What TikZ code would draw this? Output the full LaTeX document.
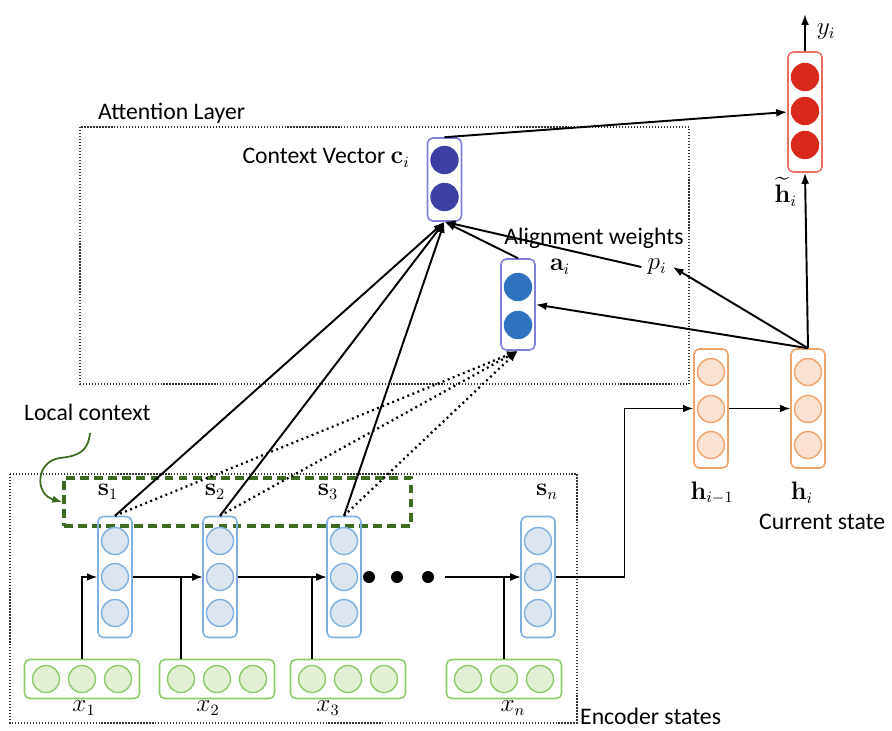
\documentclass[tikz,border=0pt]{standalone}
\usepackage{amsmath}
\usepackage[no-math]{fontspec}
\setmainfont{Carlito}
\usetikzlibrary{arrows.meta}

\definecolor{encblue}{HTML}{7FB0E0}
\definecolor{encfill}{HTML}{DCE5EF}
\definecolor{ingreen}{HTML}{8CCB6A}
\definecolor{infill}{HTML}{E3F0D6}
\definecolor{decorange}{HTML}{F2A36C}
\definecolor{decfill}{HTML}{FBE2D2}
\definecolor{outred}{HTML}{D9291C}
\definecolor{outborder}{HTML}{EB7062}
\definecolor{ctxblue}{HTML}{3B40A2}
\definecolor{alnblue}{HTML}{2F73BF}
\definecolor{vecborder}{HTML}{8080D8}
\definecolor{locgreen}{HTML}{3E6B22}

\tikzset{
  col/.style={draw=#1, rounded corners=3pt, line width=0.9pt, minimum width=0.68cm, inner sep=0pt},
  cell/.style={circle, line width=0.8pt, minimum size=0.54cm, inner sep=0pt},
  encell/.style={cell, draw=encblue, fill=encfill},
  incell/.style={cell, draw=ingreen, fill=infill},
  decell/.style={cell, draw=decorange, fill=decfill},
  outcell/.style={cell, draw=outred, fill=outred},
  ctxcell/.style={cell, draw=ctxblue, fill=ctxblue},
  alncell/.style={cell, draw=alnblue, fill=alnblue},
  inrow/.style={draw=ingreen, rounded corners=3pt, line width=0.9pt, minimum width=2.3cm, minimum height=0.78cm},
  dotnode/.style={circle, fill=black, inner sep=0pt, minimum size=0.24cm},
  layerbox/.style={densely dotted, line width=0.7pt, black!80},
  localbox/.style={draw=locgreen, line width=2pt, dash pattern=on 5pt off 3pt, minimum width=6.94cm, minimum height=0.96cm},
  feed/.style={-{Latex[length=2mm,width=1.5mm]}, line width=0.8pt},
  attn/.style={-{Latex[length=2.2mm,width=1.6mm]}, line width=1.1pt},
  align/.style={attn, dotted, line width=1.3pt}
}

\begin{document}
\begin{tikzpicture}[x=0.02cm, y=-0.02cm, font=\fontsize{13.5pt}{16pt}\selectfont]
  \useasboundingbox (0,0) rectangle (892,730);

  % Cadres des deux couches
  \draw[layerbox] (80,127) rectangle (689,384);
  \draw[layerbox] (10,474) rectangle (577,723);
  \node[anchor=west] (attlab) at (92,113) {Attention Layer};
  \node[anchor=west] (enclab) at (574,716) {Encoder states};

  % Contexte local
  \node[localbox] (loc) at (237.5,502) {};
  \node[anchor=west] (loclab) at (18,412) {Local context};
  \coordinate (locstart) at (90,433);
  \draw[locgreen, line width=1pt, -{Latex[length=2mm,width=1.5mm]}] (locstart)
    .. controls (88,452) and (78,456) .. (60,458)
    .. controls (36,461) and (34,494) .. (loc.west);

  % Etats de l'encodeur
  \foreach \k/\x in {1/115,2/220,3/344,n/538}{
    \node[col=encblue, minimum height=2.42cm] (s\k) at (\x,577) {};
    \foreach \y in {541,577,613}
      \node[encell] at (\x,\y) {};
  }
  \node (sl1) at (108,492) {$\mathbf{s}_1$};
  \node (sl2) at (215,492) {$\mathbf{s}_2$};
  \node (sl3) at (328,492) {$\mathbf{s}_3$};
  \node (sln) at (547,492) {$\mathbf{s}_n$};

  % Entrees
  \foreach \k/\x in {1/82,2/217,3/348,n/504}{
    \node[inrow] (x\k) at (\x,679) {};
    \foreach \dx/\c in {-36/a,0/b,36/c}
      \node[incell] (x\k\c) at (\x+\dx,679) {};
  }
  \node (xl1) at (84,708) {$x_1$};
  \node (xl2) at (208,708) {$x_2$};
  \node (xl3) at (328,708) {$x_3$};
  \node (xln) at (513,708) {$x_n$};

  \draw[feed] (x1b |- x1.north) |- (s1.west);
  \draw[feed] (x2a |- x2.north) |- (s2.west);
  \draw[feed] (x3a |- x3.north) |- (s3.west);
  \draw[feed] (xnb |- xn.north) |- (sn.west);

  % Recurrence
  \draw[feed] (s1.east) -- (s2.west);
  \draw[feed] (s2.east) -- (s3.west);
  \foreach \x [count=\k] in {369,397,428}
    \node[dotnode] (d\k) at (\x,577) {};
  \coordinate (dn) at (445,577);
  \draw[feed] (dn) -- (sn.west);

  % Decodeur
  \node[col=decorange, minimum height=2.38cm] (hprev) at (711,408.5) {};
  \node[col=decorange, minimum height=2.38cm] (hcur) at (808,408.5) {};
  \foreach \x in {711,808}
    \foreach \y in {372,409,445}
      \node[decell] at (\x,\y) {};
  \node (hprevlab) at (712,493) {$\mathbf{h}_{i-1}$};
  \node (hcurlab) at (802,493) {$\mathbf{h}_i$};
  \node[anchor=west] (curlab) at (753,522) {Current state};

  \draw[feed] (sn.east) -- ++(69,0) |- (hprev.west);
  \draw[feed] (hprev.east) -- (hcur.west);

  % Sortie
  \node[col=outborder, minimum height=2.4cm] (hout) at (805,112) {};
  \foreach \y in {77,111,145}
    \node[outcell] at (805,\y) {};
  \node[anchor=east, inner sep=1pt] (houtlab) at (799,192) {$\widetilde{\mathbf{h}}_i$};
  \coordinate (yout) at (805,14);
  \draw[attn] (hout.north) -- (yout);
  \node (ylab) at (826,32) {$y_i$};

  % Couche d'attention
  \node[col=vecborder, minimum height=1.66cm] (ctx) at (444.5,179.5) {};
  \foreach \y in {160,197}
    \node[ctxcell] at (444.5,\y) {};
  \node[anchor=east] (ctxlab) at (416,158) {Context Vector $\mathbf{c}_i$};

  \node[col=vecborder, minimum height=1.82cm] (aln) at (518,304.5) {};
  \foreach \y in {287,325}
    \node[alncell] at (518,\y) {};
  \node (alnlab) at (560,267) {$\mathbf{a}_i$};
  \node (wlab) at (594,238) {Alignment weights};
  \node (p) at (657,267) {$p_i$};

  \draw[attn] (ctx.north) -- (hout.west);
  \draw[attn] (hcur.north) -- (hout.south);
  \draw[attn] (hcur.north) -- (p.east);
  \draw[attn] (hcur.north) -- (aln.east);
  \draw[attn] (p.west) -- (ctx.south);
  \draw[attn] (aln.north) -- (ctx.south);
  \foreach \k in {1,2,3}{
    \draw[attn] (s\k.north) -- (ctx.south);
    \draw[align] (s\k.north) -- (aln.south);
  }
\end{tikzpicture}
\end{document}
